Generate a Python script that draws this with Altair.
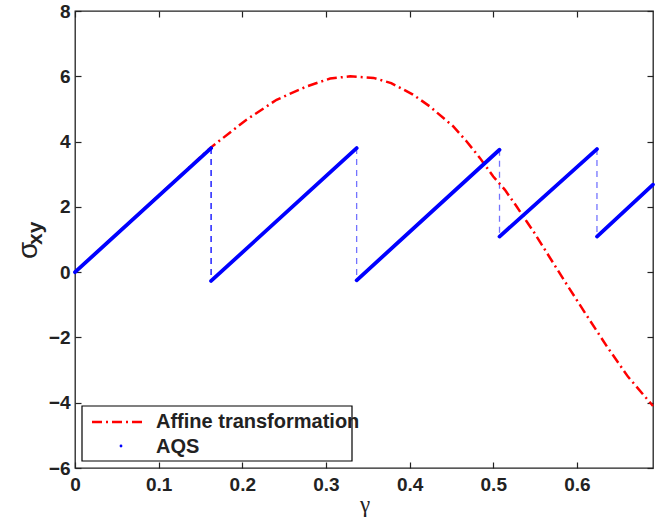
import altair as alt
import pandas as pd

# ---- data ----
affine_x = [0.0, 0.08, 0.163, 0.185, 0.205, 0.241, 0.277, 0.305, 0.329, 0.357, 0.378,
            0.404, 0.424, 0.452, 0.468, 0.484, 0.500, 0.514, 0.528, 0.540, 0.548,
            0.584, 0.610, 0.636, 0.661, 0.691]
affine_y = [0.0, 1.87, 3.83, 4.27, 4.67, 5.28, 5.69, 5.93, 6.00, 5.95, 5.79,
            5.44, 5.08, 4.47, 4.01, 3.50, 2.93, 2.52, 2.01, 1.55, 1.25,
            -0.22, -1.26, -2.28, -3.20, -4.10]

aqs_x_start = [0.0, 0.1627, 0.3367, 0.5075, 0.6240]
aqs_y_start = [0.0, -0.27, -0.25, 1.09, 1.09]
aqs_x_end = [0.1627, 0.3367, 0.5075, 0.6240, 0.691]
aqs_y_end = [3.80, 3.80, 3.75, 3.77, 2.68]

jump_x = [0.1627, 0.3367, 0.5075, 0.6240]
jump_top = [3.80, 3.80, 3.75, 3.77]
jump_bottom = [-0.27, -0.25, 1.09, 1.09]

x_ticks = [0, 0.1, 0.2, 0.3, 0.4, 0.5, 0.6]
y_ticks = [-6, -4, -2, 0, 2, 4, 6, 8]
x_domain = [0, 0.691]
y_domain = [-6, 8]

legend_labels = ["Affine transformation", "AQS"]
x_title = "γ"
y_title_main = "σ"
y_title_sub = "xy"

# ---- layout ----
W, H = 578, 457
PL, PT = 75, 11
FONT = "Liberation Sans"
TXT = "#222"

df_aff = pd.DataFrame({"x": affine_x, "y": affine_y})
df_aqs = pd.DataFrame({"x0": aqs_x_start, "y0": aqs_y_start, "x1": aqs_x_end, "y1": aqs_y_end})
df_jump = pd.DataFrame({"x": jump_x, "top": jump_top, "bottom": jump_bottom})
one = pd.DataFrame({"a": [0]})

xs = alt.Scale(domain=x_domain, nice=False, zero=False)
ys = alt.Scale(domain=y_domain, nice=False, zero=False)

ax_bottom = alt.Axis(orient="bottom", values=x_ticks, format=".1~f", ticks=False, domain=False,
                     grid=False, labelFlush=False, labelFont=FONT, labelFontWeight="bold",
                     labelFontSize=19, labelColor=TXT, labelPadding=7, title="")
ax_left = alt.Axis(orient="left", values=y_ticks, format="d", ticks=False, domain=False, grid=False,
                   labelFlush=False, labelFont=FONT, labelFontWeight="bold", labelFontSize=19,
                   labelColor=TXT, labelPadding=5, title="")
tick_kw = dict(labels=False, domain=False, grid=False, ticks=True, tickSize=6, tickWidth=1.2,
               tickColor=TXT, title="")
ax_in_bottom = alt.Axis(orient="top", offset=-H, values=x_ticks, **tick_kw)
ax_in_left = alt.Axis(orient="right", offset=-W, values=y_ticks, **tick_kw)
ax_in_top = alt.Axis(orient="bottom", offset=-H, values=x_ticks, **tick_kw)
ax_in_right = alt.Axis(orient="left", offset=-W, values=y_ticks, **tick_kw)

jumps = alt.Chart(df_jump).mark_rule(color="blue", strokeWidth=1.3, strokeDash=[6, 5]).encode(
    x=alt.X("x:Q", scale=xs, axis=ax_in_top),
    y=alt.Y("top:Q", scale=ys, axis=ax_in_right),
    y2="bottom:Q",
    opacity=alt.condition("datum.x < 0.2", alt.value(1.0), alt.value(0.55)),
)

red = alt.Chart(df_aff).mark_line(color="red", strokeWidth=2.5, strokeDash=[10, 4, 2, 4]).encode(
    x=alt.X("x:Q", scale=xs, axis=ax_bottom),
    y=alt.Y("y:Q", scale=ys, axis=ax_left),
)

blue = alt.Chart(df_aqs).mark_rule(color="blue", strokeWidth=3.8, strokeCap="round").encode(
    x=alt.X("x0:Q", scale=xs, axis=ax_in_bottom),
    y=alt.Y("y0:Q", scale=ys, axis=ax_in_left),
    x2="x1:Q",
    y2="y1:Q",
)

# legend (drawn by hand, MATLAB style)
leg_box = alt.Chart(one).mark_rect(fill="white", stroke="black", strokeWidth=1.2).encode(
    x=alt.value(82 - PL), x2=alt.value(352 - PL), y=alt.value(406 - PT), y2=alt.value(461 - PT))
leg_red = alt.Chart(one).mark_rule(color="red", strokeWidth=2.5, strokeDash=[10, 4, 2, 4]).encode(
    x=alt.value(92 - PL), x2=alt.value(145 - PL), y=alt.value(422 - PT))
leg_blue = alt.Chart(one).mark_point(filled=True, color="blue", size=8, opacity=1).encode(
    x=alt.value(121 - PL), y=alt.value(446 - PT))
leg_t1 = alt.Chart(one).mark_text(align="left", baseline="alphabetic", font=FONT, fontWeight="bold",
                                   fontSize=20, color=TXT).encode(
    x=alt.value(156 - PL), y=alt.value(428 - PT), text=alt.value(legend_labels[0]))
leg_t2 = alt.Chart(one).mark_text(align="left", baseline="alphabetic", font=FONT, fontWeight="bold",
                                   fontSize=20, color=TXT).encode(
    x=alt.value(156 - PL), y=alt.value(453 - PT), text=alt.value(legend_labels[1]))

# axis titles
xtitle = alt.Chart(one).mark_text(align="center", baseline="middle", font="Liberation Serif",
                                  fontSize=23, color=TXT).encode(
    x=alt.value(365 - PL), y=alt.value(505 - PT), text=alt.value(x_title))
ytitle_main = alt.Chart(one).mark_text(align="left", baseline="alphabetic", angle=270, font=FONT,
                                        fontSize=28, color=TXT).encode(
    x=alt.value(37 - PL), y=alt.value(259 - PT), text=alt.value(y_title_main))
ytitle_sub = alt.Chart(one).mark_text(align="left", baseline="alphabetic", angle=270, font=FONT,
                                       fontWeight="bold", fontSize=21, color=TXT).encode(
    x=alt.value(42 - PL), y=alt.value(245 - PT), text=alt.value(y_title_sub))

chart = alt.layer(
    jumps, red, blue, leg_box, leg_red, leg_blue, leg_t1, leg_t2, xtitle, ytitle_main, ytitle_sub
).resolve_axis(x="independent", y="independent").properties(
    width=W, height=H,
    autosize=alt.AutoSizeParams(type="none"),
    padding={"left": PL, "top": PT, "right": 663 - PL - W, "bottom": 519 - PT - H},
    background="white",
).configure_view(stroke="#222", strokeWidth=1.3)

chart.save("out.html", embed_options={"renderer": "svg", "actions": False})
